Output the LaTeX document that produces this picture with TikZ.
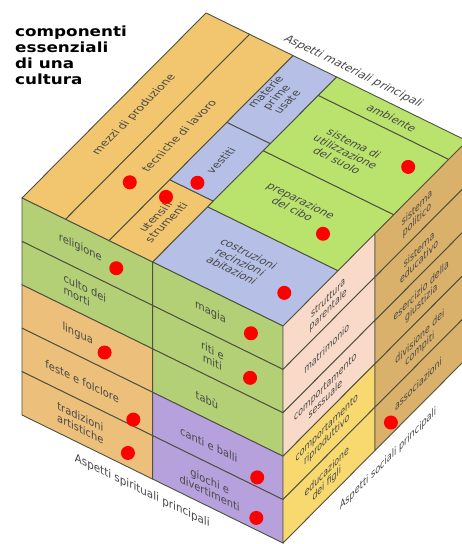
\documentclass[tikz,border=0pt]{standalone}
\usepackage{fontspec}
\usepackage{tikz}
\newfontfamily\labfont{DejaVu Sans}
\newfontfamily\titlefont[FakeStretch=1.2]{DejaVu Sans}
\definecolor{arancio}{HTML}{F2C66E}
\definecolor{arancioS}{HTML}{ECC07A}
\definecolor{azzurro}{HTML}{B6C0E6}
\definecolor{verdeT}{HTML}{BAE36E}
\definecolor{verdeS}{HTML}{B4D076}
\definecolor{viola}{HTML}{B7A1DD}
\definecolor{rosa}{HTML}{F9DAC9}
\definecolor{giallo}{HTML}{F7D970}
\definecolor{ocra}{HTML}{D9B16A}
\definecolor{bordo}{HTML}{4F5040}
\definecolor{testo}{HTML}{484848}

\begin{document}
\begin{tikzpicture}[x=1pt, y=1pt,
    cella/.style={draw=bordo, line width=0.9pt, line join=round},
    voce/.style={font=\labfont\fontsize{11}{12}\selectfont, text=testo, align=center, inner sep=0pt, transform shape},
    asse/.style={font=\labfont\fontsize{11.5}{12}\selectfont, text=testo, inner sep=0pt, transform shape},
    punto/.style={circle, fill=red, minimum size=14pt, inner sep=0pt}]
    \useasboundingbox (0,0) rectangle (462,-544);
    \clip (0,0) rectangle (462,-544);

    % Titolo
    \node[anchor=north west, align=left, inner sep=0pt, font=\titlefont\bfseries\fontsize{14}{16}\selectfont] (titolo) at (15,-26) {componenti\\essenziali\\di una\\cultura};

    % Faccia superiore: aspetti materiali
    \begin{scope}[cm={0.8978,-0.4403,0.7052,0.7091,(22,-198)}]
        \draw[cella, fill=arancio] (0,0) rectangle (48.5,261);
        \draw[cella, fill=arancio] (48.5,0) rectangle (97,261);
        \draw[cella, fill=arancio] (97,0) rectangle (145.5,86);
        \draw[cella, fill=azzurro] (97,86) rectangle (145.5,167);
        \draw[cella, fill=azzurro] (97,167) rectangle (145.5,261);
        \draw[cella, fill=azzurro] (145.5,0) rectangle (291,78);
        \draw[cella, fill=verdeT] (145.5,78) rectangle (291,157);
        \draw[cella, fill=verdeT] (145.5,157) rectangle (291,235);
        \draw[cella, fill=verdeT] (145.5,235) rectangle (291,261);

        \node[voce, rotate=90] (mezzi) at (22,131) {mezzi di produzione};
        \node[voce, rotate=90] (tecniche) at (71,132) {tecniche di lavoro};
        \node[voce, rotate=90] (utensili) at (120,44) {utensili\\strumenti};
        \node[voce, rotate=90] (vestiti) at (121,128) {vestiti};
        \node[voce, rotate=90] (materie) at (115,214) {materie\\prime\\usate};
        \node[voce] (costruzioni) at (211,41) {costruzioni\\recinzioni\\abitazioni};
        \node[voce] (cibo) at (211,121) {preparazione\\del cibo};
        \node[voce] (suolo) at (208,194) {sistema di\\utilizzazione\\del suolo};
        \node[voce] (ambiente) at (217,248) {ambiente};
        \node[asse] (materiali) at (154,274) {Aspetti materiali principali};

        \node[punto] (p-tecniche) at (69,65) {};
        \node[punto] (p-utensili) at (107,68) {};
        \node[punto] (p-vestiti) at (120,96) {};
        \node[punto] (p-suolo) at (266,209) {};
        \node[punto] (p-cibo) at (252,106) {};
        \node[punto] (p-costruzioni) at (267,32) {};
    \end{scope}

    % Faccia sinistra: aspetti spirituali
    \begin{scope}[cm={0.8978,-0.4403,0,1,(22,-415)}]
        \draw[cella, fill=verdeS] (0,173.6) rectangle (145.5,217);
        \draw[cella, fill=verdeS] (0,130.2) rectangle (145.5,173.6);
        \draw[cella, fill=arancioS] (0,86.8) rectangle (145.5,130.2);
        \draw[cella, fill=arancioS] (0,43.4) rectangle (145.5,86.8);
        \draw[cella, fill=arancioS] (0,0) rectangle (145.5,43.4);
        \draw[cella, fill=verdeS] (145.5,173.6) rectangle (291,217);
        \draw[cella, fill=verdeS] (145.5,130.2) rectangle (291,173.6);
        \draw[cella, fill=verdeS] (145.5,86.8) rectangle (291,130.2);
        \draw[cella, fill=viola] (145.5,43.4) rectangle (291,86.8);
        \draw[cella, fill=viola] (145.5,0) rectangle (291,43.4);

        \node[voce] (religione) at (65,196) {religione};
        \node[voce, align=left] (culto) at (70,152) {culto dei\\morti};
        \node[voce] (lingua) at (62,108) {lingua};
        \node[voce] (feste) at (67,63) {feste e folclore};
        \node[voce] (tradizioni) at (65,21) {tradizioni\\artistiche};
        \node[voce] (magia) at (210,195) {magia};
        \node[voce] (riti) at (212,152) {riti e\\miti};
        \node[voce] (tabu) at (206,106) {tabù};
        \node[voce] (canti) at (208,62) {canti e balli};
        \node[voce] (giochi) at (209,20) {giochi e\\divertimenti};
        \node[asse] (spirituali) at (134,-17) {Aspetti spirituali principali};

        \node[punto] (p-religione) at (105,193) {};
        \node[punto] (p-lingua) at (92,103) {};
        \node[punto] (p-feste) at (124,50) {};
        \node[punto] (p-tradizioni) at (118,14) {};
        \node[punto] (p-magia) at (255,194) {};
        \node[punto] (p-riti) at (254,149) {};
        \node[punto] (p-canti) at (262,53) {};
        \node[punto] (p-giochi) at (261,12) {};
    \end{scope}

    % Faccia destra: aspetti sociali
    \begin{scope}[cm={0.7052,0.7091,0,1,(283,-543)}]
        \draw[cella, fill=rosa] (0,173.6) rectangle (130.5,217);
        \draw[cella, fill=rosa] (0,130.2) rectangle (130.5,173.6);
        \draw[cella, fill=rosa] (0,86.8) rectangle (130.5,130.2);
        \draw[cella, fill=giallo] (0,43.4) rectangle (130.5,86.8);
        \draw[cella, fill=giallo] (0,0) rectangle (130.5,43.4);
        \foreach \r in {0,43.4,86.8,130.2,173.6}
            \draw[cella, fill=ocra] (130.5,\r) rectangle (261,\r+43.4);

        \node[voce] (parentale) at (64,193) {struttura\\parentale};
        \node[voce] (matrimonio) at (62,151) {matrimonio};
        \node[voce] (sessuale) at (60,108) {comportamento\\sessuale};
        \node[voce] (riproduttivo) at (62,65) {comportamento\\riproduttivo};
        \node[voce] (figli) at (62,21) {educazione\\dei figli};
        \node[voce] (politico) at (190,194) {sistema\\politico};
        \node[voce] (educativo) at (193,151) {sistema\\educativo};
        \node[voce] (giustizia) at (196,107) {esercizio della\\giustizia};
        \node[voce] (compiti) at (194,62) {divisione dei\\compiti};
        \node[voce] (associazioni) at (192,23) {associazioni};
        \node[asse] (sociali) at (149,-22) {Aspetti sociali principali};

        \node[punto] (p-associazioni) at (153,12) {};
    \end{scope}
\end{tikzpicture}
\end{document}
